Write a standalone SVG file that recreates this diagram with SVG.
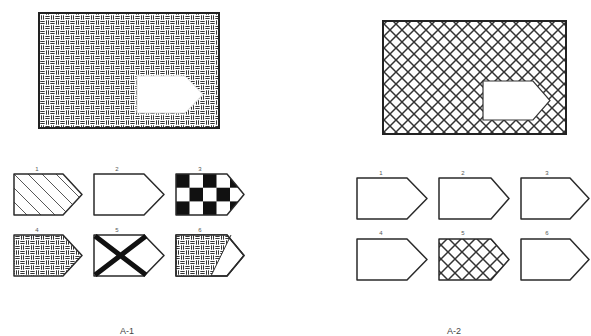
<svg xmlns="http://www.w3.org/2000/svg" width="591" height="336" viewBox="0 0 591 336">
<style>
.frame{fill:none;stroke:#222;stroke-width:2}
.tag{stroke:#2a2a2a;stroke-width:1.5;stroke-linejoin:round}
.num{font-family:"Liberation Sans",Arial,sans-serif;font-size:6px;fill:#555;text-anchor:middle}
.cap{font-family:"Liberation Sans",Arial,sans-serif;font-size:9px;fill:#444;text-anchor:middle}
</style>
<defs>
<pattern id="weave" width="10" height="10" patternUnits="userSpaceOnUse">
<rect width="10" height="10" fill="#fff"/>
<g stroke="#2a2a2a" stroke-width="0.95">
<path d="M0.3 1.5H4.7M0.3 3.5H4.7M6.5 0.3V4.7M8.5 0.3V4.7M1.5 5.3V9.7M3.5 5.3V9.7M5.3 6.5H9.7M5.3 8.5H9.7"/>
</g>
</pattern>
<pattern id="xhatch" width="12" height="12" patternUnits="userSpaceOnUse">
<rect width="12" height="12" fill="#fff"/>
<path d="M0 0L12 12M12 0L0 12" stroke="#333" stroke-width="1.5"/>
</pattern>
<pattern id="xhatch2" width="14" height="14" patternUnits="userSpaceOnUse">
<rect width="14" height="14" fill="#fff"/>
<path d="M0 0L14 14M14 0L0 14" stroke="#333" stroke-width="1.5"/>
</pattern>
<pattern id="diag" x="14" y="174" width="14" height="14" patternUnits="userSpaceOnUse">
<rect width="14" height="14" fill="#fff"/>
<path d="M0 0L14 14M-7 7L0 14M7 -7L21 7" stroke="#444" stroke-width="0.9"/>
</pattern>
<pattern id="checker" x="176" y="174" width="27" height="27.4" patternUnits="userSpaceOnUse">
<rect width="27" height="27.4" fill="#fff"/>
<rect width="13.5" height="13.7" fill="#111"/>
<rect x="13.5" y="13.7" width="13.5" height="13.7" fill="#111"/>
</pattern>
<clipPath id="c6"><path d="M176 235H227L244 255.5L227 276H176Z"/></clipPath>
</defs>

<g id="a1-main">
<rect x="39" y="13" width="180" height="115" fill="url(#weave)"/>
<rect class="frame" x="39" y="13" width="180" height="115"/>
<path d="M137 76H185L203 94.5L185 113H137Z" fill="#fff" stroke="#ddd" stroke-width="1"/>
</g>
<g id="a2-main">
<rect x="383" y="21" width="183" height="113" fill="url(#xhatch)"/>
<rect class="frame" x="383" y="21" width="183" height="113"/>
<path d="M483 81H533L550 100.5L533 120H483Z" fill="#fff" stroke="#333" stroke-width="1.2"/>
</g>

<g id="a1-opt1">
<text class="num" x="37" y="171">1</text>
<path class="tag" d="M14 174H63L82 194.5L63 215H14Z" fill="url(#diag)"/>
</g>
<g id="a1-opt2">
<text class="num" x="117" y="171">2</text>
<path class="tag" d="M94 174H144L164 194.5L144 215H94Z" fill="#fff"/>
</g>
<g id="a1-opt3">
<text class="num" x="200" y="171">3</text>
<path class="tag" d="M176 174H227L244 194.5L227 215H176Z" fill="url(#checker)"/>
</g>
<g id="a1-opt4">
<text class="num" x="37" y="232">4</text>
<path class="tag" d="M14 235H63L82 255.5L63 276H14Z" fill="url(#weave)"/>
</g>
<g id="a1-opt5">
<text class="num" x="117" y="232">5</text>
<path class="tag" d="M94 235H144L164 255.5L144 276H94Z" fill="#fff"/>
<path d="M95 236L146 275M146 236L95 275" stroke="#111" stroke-width="5"/>
</g>
<g id="a1-opt6">
<text class="num" x="200" y="232">6</text>
<path class="tag" d="M176 235H227L244 255.5L227 276H176Z" fill="#fff"/>
<path d="M176 235H231L211 276H176Z" fill="url(#weave)" clip-path="url(#c6)"/>
<path d="M231 235L211 276" stroke="#333" stroke-width="1"/>
<path class="tag" d="M176 235H227L244 255.5L227 276H176Z" fill="none"/>
</g>

<g id="a2-opt1">
<text class="num" x="381" y="175">1</text>
<path class="tag" d="M357 178H407L427 198.5L407 219H357Z" fill="#fff"/>
</g>
<g id="a2-opt2">
<text class="num" x="463" y="175">2</text>
<path class="tag" d="M439 178H491L509 198.5L491 219H439Z" fill="#fff"/>
</g>
<g id="a2-opt3">
<text class="num" x="547" y="175">3</text>
<path class="tag" d="M521 178H570L589 198.5L570 219H521Z" fill="#fff"/>
</g>
<g id="a2-opt4">
<text class="num" x="381" y="235">4</text>
<path class="tag" d="M357 239H407L427 259.5L407 280H357Z" fill="#fff"/>
</g>
<g id="a2-opt5">
<text class="num" x="463" y="235">5</text>
<path class="tag" d="M439 239H491L509 259.5L491 280H439Z" fill="url(#xhatch2)"/>
</g>
<g id="a2-opt6">
<text class="num" x="547" y="235">6</text>
<path class="tag" d="M521 239H570L589 259.5L570 280H521Z" fill="#fff"/>
</g>

<text class="cap" x="127" y="334">A-1</text>
<text class="cap" x="454" y="334">A-2</text>
</svg>
